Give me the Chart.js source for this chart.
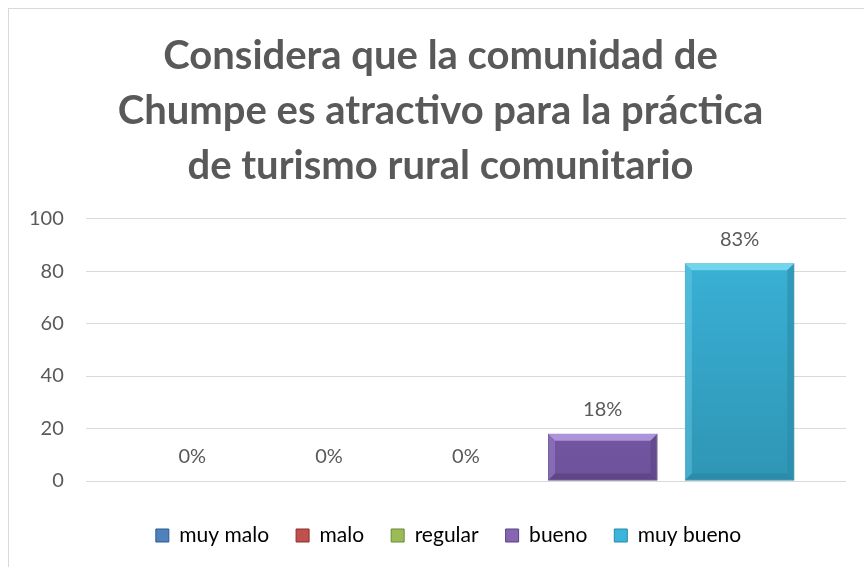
<!DOCTYPE html>
<html>
<head>
<meta charset="utf-8">
<script src="https://cdn.jsdelivr.net/npm/chart.js@4.4.0/dist/chart.umd.min.js"></script>
<style>
  html, body { margin: 0; padding: 0; background: #fff; overflow: hidden; }
  #marco { position: absolute; left: 8px; top: 8px; width: 880px; height: 600px; border: 1px solid #d9d9d9; }
  #wrap { position: absolute; left: 0; top: 0; width: 864px; height: 567px; }
</style>
</head>
<body>
<div id="marco"></div>
<div id="wrap"><canvas id="graphCanvas"></canvas></div>
<script>
// Datos del gráfico
const categorias = ['muy malo', 'malo', 'regular', 'bueno', 'muy bueno'];
const valores = [0, 0, 0, 18, 83];
const etiquetas = ['0%', '0%', '0%', '18%', '83%'];
const ticksY = [0, 20, 40, 60, 80, 100];

const titulo = [
    'Considera que la comunidad de',
    'Chumpe es atractivo para la práctica',
    'de turismo rural comunitario'
];

// Colores estilo Excel: [claro, base, oscuro]
const colores = [
    ['#7ea6dc', '#4f81bd', '#2c5a8f'],
    ['#e07a77', '#c0504d', '#8c2f2c'],
    ['#bcd880', '#9bbb59', '#6b8a33'],
    ['#b39ae0', '#8466b4', '#5a4282'],
    ['#7ad8f0', '#3bb6db', '#2a88a6']
];
const fondoFin = ['#3f6fa6', '#a8403d', '#84a548', '#6e529c', '#2f95b5'];

const fuente = 'Lato, "Open Sans", sans-serif';
const gris = '#595959';

// Relleno con degradado vertical para cada barra
function relleno(i) {
    return function (context) {
        const chart = context.chart;
        const area = chart.chartArea;
        if (!area) return colores[i][1];
        const g = chart.ctx.createLinearGradient(0, area.top, 0, area.bottom);
        g.addColorStop(0, colores[i][1]);
        g.addColorStop(1, fondoFin[i]);
        return g;
    };
}

// Excel no centra título y leyenda exactamente en el lienzo
const desplazar = {
    id: 'desplazar',
    afterLayout(chart) {
        if (chart.titleBlock) { chart.titleBlock.left += 14; chart.titleBlock.right += 14; }
        if (chart.legend) { chart.legend.left += 22; chart.legend.right += 22; }
    }
};

// Bisel y etiquetas de datos
const biselYEtiquetas = {
    id: 'biselYEtiquetas',
    afterDatasetsDraw(chart) {
        const ctx = chart.ctx;
        chart.data.datasets.forEach((ds, i) => {
            const meta = chart.getDatasetMeta(i);
            meta.data.forEach((bar, j) => {
                const p = bar.getProps(['x', 'y', 'base', 'width'], true);
                const left = p.x - p.width / 2;
                const right = p.x + p.width / 2;
                const top = Math.min(p.y, p.base);
                const bottom = Math.max(p.y, p.base);
                const h = bottom - top;
                if (h > 2) {
                    const b = Math.min(7, h / 2);
                    ctx.save();
                    // arriba
                    ctx.fillStyle = colores[i][0];
                    ctx.globalAlpha = 0.9;
                    ctx.beginPath();
                    ctx.moveTo(left, top); ctx.lineTo(right, top);
                    ctx.lineTo(right - b, top + b); ctx.lineTo(left + b, top + b);
                    ctx.closePath(); ctx.fill();
                    // izquierda
                    ctx.globalAlpha = 0.35;
                    ctx.beginPath();
                    ctx.moveTo(left, top); ctx.lineTo(left + b, top + b);
                    ctx.lineTo(left + b, bottom - b); ctx.lineTo(left, bottom);
                    ctx.closePath(); ctx.fill();
                    // derecha
                    ctx.fillStyle = colores[i][2];
                    ctx.globalAlpha = 0.55;
                    ctx.beginPath();
                    ctx.moveTo(right, top); ctx.lineTo(right - b, top + b);
                    ctx.lineTo(right - b, bottom - b); ctx.lineTo(right, bottom);
                    ctx.closePath(); ctx.fill();
                    // abajo
                    ctx.globalAlpha = 0.7;
                    ctx.beginPath();
                    ctx.moveTo(left, bottom); ctx.lineTo(left + b, bottom - b);
                    ctx.lineTo(right - b, bottom - b); ctx.lineTo(right, bottom);
                    ctx.closePath(); ctx.fill();
                    ctx.restore();
                }
                ctx.save();
                ctx.fillStyle = gris;
                ctx.font = '20px ' + fuente;
                ctx.textAlign = 'center';
                ctx.textBaseline = 'middle';
                ctx.fillText(etiquetas[i], p.x, top - 24);
                ctx.restore();
            });
        });
    }
};

const datasets = categorias.map((cat, i) => ({
    label: cat,
    data: [valores[i]],
    backgroundColor: relleno(i),
    borderColor: colores[i][2],
    borderWidth: 1,
    borderSkipped: false,
    categoryPercentage: 0.9,
    barPercentage: 0.8
}));

const ctx = document.getElementById('graphCanvas').getContext('2d');
const chart = new Chart(ctx, {
    type: 'bar',
    data: { labels: [''], datasets: datasets },
    plugins: [desplazar, biselYEtiquetas],
    options: {
        responsive: true,
        maintainAspectRatio: false,
        animation: false,
        layout: { padding: { left: 7, right: 18, top: 28, bottom: 11 } },
        plugins: {
            title: {
                display: true,
                text: titulo,
                color: gris,
                font: { family: fuente, size: 40, weight: 'bold', lineHeight: 1.38 },
                padding: { top: 0, bottom: 25 }
            },
            legend: {
                position: 'bottom',
                labels: {
                    color: gris,
                    font: { family: fuente, size: 21 },
                    boxWidth: 13,
                    boxHeight: 13,
                    padding: 27,
                    generateLabels(c) {
                        return categorias.map((cat, i) => ({
                            text: cat,
                            fillStyle: colores[i][1],
                            strokeStyle: colores[i][2],
                            lineWidth: 1,
                            datasetIndex: i
                        }));
                    }
                }
            },
            tooltip: { enabled: false }
        },
        scales: {
            x: {
                display: true,
                grid: { display: false },
                border: { display: false },
                ticks: { display: false },
                afterFit(axis) { axis.height = 17; }
            },
            y: {
                min: 0,
                max: 100,
                afterBuildTicks(axis) { axis.ticks = ticksY.map(v => ({ value: v })); },
                border: { display: false },
                grid: { color: '#d9d9d9', lineWidth: 1, drawTicks: false },
                ticks: { color: gris, font: { family: fuente, size: 20 }, padding: 22 }
            }
        }
    }
});
</script>
</body>
</html>
